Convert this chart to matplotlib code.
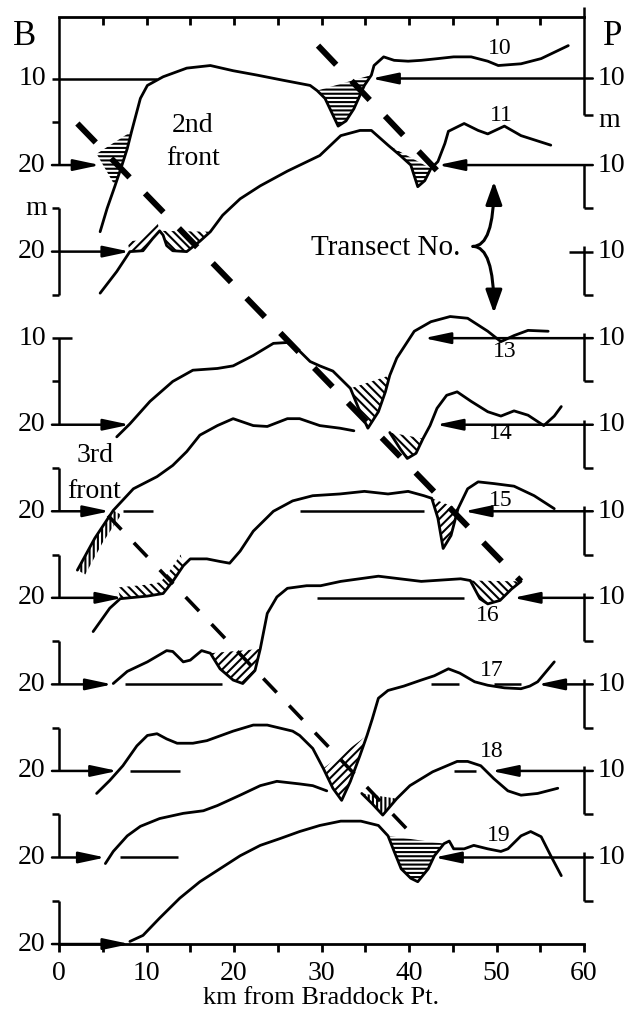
import numpy as np
import matplotlib
matplotlib.use("Agg")
import matplotlib.pyplot as plt

plt.rcParams['font.family'] = ['Liberation Serif', 'DejaVu Serif']
plt.rcParams['lines.scale_dashes'] = False
plt.rcParams['hatch.linewidth'] = 1.5

# transect profiles: distance from Braddock Pt. (km) and depth (m)
# each transect is drawn 10 m lower than the previous one; nan = gap in the trace
t10_km = [4.7, 5.5, 6.4, 7.2, 7.8, 8.3, 9.3, 10.1, 11.9, 14.6, 17.3, 19.9, 22.6, 25.6, 28.7, 29.5, 30.4,
          31.2, 31.9, 32.8, 33.7, 34.9, 35.7, 36.0, 37.1, 38.3, 39.9, 41.4, 43.3, 45.1, 47.1, 49.0, 50.2,
          52.8, 55.1, 58.2]
t10_m = [27.7, 25.0, 22.4, 20.0, 18.1, 16.1, 12.3, 10.8, 9.8, 8.8, 8.5, 9.1, 9.6, 10.2, 10.8, 11.4, 12.3,
         14.0, 15.5, 14.9, 13.5, 10.8, 9.6, 8.5, 7.5, 7.9, 8.0, 7.9, 7.7, 7.5, 7.5, 8.0, 8.5,
         8.3, 7.7, 6.2]

t11_km = [4.7, 6.6, 8.1, 9.6, 10.7, 11.5, 11.9, 12.3, 13.0, 14.6, 16.1, 17.3, 18.7, 20.7, 23.0, 26.1, 29.8,
          32.2, 34.4, 35.7, 37.6, 39.0, 40.2, 41.0, 41.8, 42.5, 43.3, 44.1, 44.5, 46.3, 47.9, 49.0, 50.9,
          52.8, 56.2]
t11_m = [24.8, 22.3, 20.0, 19.9, 18.5, 17.6, 18.1, 19.3, 19.9, 20.0, 18.8, 17.7, 15.8, 13.9, 12.4, 10.7, 8.9,
         6.6, 6.0, 6.0, 7.7, 8.9, 10.0, 12.5, 11.8, 10.4, 9.6, 7.5, 6.1, 5.2, 6.0, 6.4, 5.5,
         6.6, 7.7]

t13_km = [6.6, 8.1, 10.4, 13.0, 15.3, 18.1, 19.9, 22.2, 24.5, 26.1, 27.5, 28.7, 29.8, 31.3, 33.3, 34.4, 35.3,
          36.5, 37.3, 37.8, 38.6, 40.6, 42.5, 44.7, 46.7, 49.0, 50.5, 52.0, 53.6, 55.9]
t13_m = [21.4, 19.9, 17.3, 15.0, 13.7, 13.5, 13.2, 12.0, 10.6, 10.5, 11.5, 12.7, 13.2, 13.8, 15.8, 18.5, 20.4,
         18.5, 16.2, 14.3, 12.3, 9.2, 8.1, 7.5, 7.7, 9.2, 10.4, 9.7, 9.1, 9.2]

t14_km = [2.1, 4.1, 6.2, 8.5, 11.2, 13.0, 14.6, 16.1, 18.1, 19.9, 22.2, 23.8, 26.1, 27.5, 29.8, 32.1, 33.7,
          35.5, 37.8, 39.0, 39.8, 40.8, 41.6, 42.4, 43.2, 44.3, 45.5, 47.1, 49.0, 50.5, 52.0, 53.6, 55.4,
          56.6, 57.4]
t14_m = [26.8, 23.1, 19.9, 17.4, 16.0, 14.7, 13.1, 11.2, 10.1, 9.3, 10.1, 10.2, 9.3, 9.3, 10.1, 10.4, 10.7,
         np.nan, 10.9, 12.8, 13.9, 13.3, 11.6, 10.1, 8.1, 6.6, 6.2, 7.3, 8.5, 9.0, 8.4, 8.9, 10.1,
         9.0, 7.9]

t15_km = [3.9, 5.8, 7.0, 10.1, 11.9, 13.0, 14.2, 15.0, 16.9, 18.4, 19.5, 20.7, 22.2, 24.5, 26.7, 29.0, 32.1,
          34.9, 37.6, 39.9, 41.7, 42.6, 43.3, 43.9, 44.8, 45.6, 46.7, 47.9, 49.7, 52.0, 54.3, 56.6]
t15_m = [23.9, 21.2, 20.1, 19.8, 19.5, 18.1, 16.3, 15.5, 15.5, 15.8, 16.0, 14.6, 12.3, 10.0, 8.8, 8.2, 8.0,
         7.7, 8.0, 7.7, 8.2, 8.5, 10.8, 14.3, 12.8, 9.7, 7.4, 6.6, 6.8, 7.1, 8.2, 9.7]

t16_km = [6.2, 7.8, 10.1, 12.3, 13.0, 14.2, 15.0, 16.3, 17.3, 18.4, 19.9, 21.0, 22.4, 23.0, 23.8, 24.9, 26.1,
          28.3, 29.9, 32.2, 36.5, 41.4, 45.9, 47.0, 48.1, 49.0, 50.4, 51.7, 52.8]
t16_m = [19.9, 18.5, 17.4, 16.1, 16.2, 17.4, 17.2, 16.1, 16.4, 18.2, 19.5, 19.9, 18.4, 15.9, 11.8, 9.9, 8.9,
         8.6, 8.6, 8.1, 7.5, 8.1, 7.8, 8.0, 10.1, 10.7, 10.3, 9.0, 8.1]

t17_km = [4.3, 5.8, 7.3, 8.9, 10.1, 11.2, 12.3, 13.5, 15.3, 16.9, 19.9, 22.2, 23.8, 26.7, 27.5, 29.0, 30.2,
          31.3, 32.3, 33.3, 34.4, 35.2, 35.8, 36.5, 37.6, 39.4, 41.4, 42.9, 44.5, 45.8, 47.5, 49.0, 50.9,
          52.8, 53.8, 54.7, 56.6]
t17_m = [22.6, 21.1, 19.4, 17.1, 15.9, 15.7, 16.3, 16.8, 16.8, 16.5, 15.4, 14.7, 14.7, 15.4, 15.9, 17.4, 19.7,
         22.0, 23.4, 21.2, 18.2, 15.9, 14.0, 11.6, 10.7, 10.2, 9.5, 9.0, 8.2, 8.7, 9.7, 10.1, 10.4,
         10.5, 10.2, 9.7, 7.4]

t18_km = [5.3, 6.2, 7.8, 9.3, 11.5, 14.2, 16.5, 18.1, 20.7, 23.0, 24.9, 27.5, 29.0, 30.6, 32.5, 34.6, 35.8,
          37.0, 38.6, 40.1, 42.7, 45.5, 46.7, 48.2, 49.7, 51.3, 52.8, 54.7, 57.0]
t18_m = [20.7, 19.3, 17.5, 16.4, 15.5, 14.9, 14.6, 14.0, 12.8, 11.7, 11.2, 11.5, 11.7, 12.3, np.nan, 12.6, 13.8,
         15.1, 13.2, 11.7, 10.1, 8.9, 8.9, 9.4, 10.9, 12.3, 12.8, 12.6, 12.0]

t19_km = [8.1, 9.6, 11.5, 13.8, 16.1, 18.4, 20.7, 23.0, 25.3, 27.5, 29.8, 32.2, 34.5, 36.5, 37.6, 38.3, 39.1,
          40.2, 41.0, 42.2, 42.9, 44.0, 44.6, 45.1, 46.3, 47.4, 49.0, 50.5, 51.3, 52.8, 53.9, 55.1, 56.2,
          57.4]
t19_m = [19.7, 19.0, 17.0, 14.7, 12.8, 11.3, 9.8, 8.6, 7.8, 7.0, 6.3, 5.8, 5.8, 6.3, 7.5, 9.3, 11.3,
         12.4, 12.8, 11.3, 9.8, 8.4, 8.1, 9.0, 9.0, 8.6, 9.0, 9.3, 9.0, 7.5, 7.0, 7.6, 9.8,
         12.1]

profiles = {10: (t10_km, t10_m), 11: (t11_km, t11_m), 13: (t13_km, t13_m), 14: (t14_km, t14_m),
            15: (t15_km, t15_m), 16: (t16_km, t16_m), 17: (t17_km, t17_m), 18: (t18_km, t18_m),
            19: (t19_km, t19_m)}
scale_bars = [10, 11, 12, 13, 14, 15, 16, 17, 18, 19]

# where the 20 m (left) and 10 m (right) reference arrows end, km
left_tip = {10: 4.7, 11: 8.1, 13: 8.1, 14: 5.8, 15: 7.3, 16: 6.1, 17: 6.7, 18: 5.3, 19: 8.1}
right_tip = {10: 35.7, 11: 43.3, 13: 41.7, 14: 43.1, 15: 46.3, 16: 51.9, 17: 54.7, 18: 49.4, 19: 42.9}
# extra pieces of the reference levels, km
left_ref = {14: [(7.3, 10.7)], 16: [(7.5, 18.6)], 17: [(8.1, 13.8)], 18: [(7.0, 13.6)]}
right_ref = {15: [(27.5, 41.7)], 16: [(29.5, 46.3)], 17: [(42.5, 45.7), (49.7, 52.8)], 18: [(45.1, 47.7)]}

# transect number labels: km, depth (m)
num_km = {10: 50.4, 11: 50.5, 13: 50.9, 14: 50.5, 15: 50.5, 16: 49.0, 17: 49.4, 18: 49.4, 19: 50.2}
num_m = {10: 6.5, 11: 4.3, 13: 11.5, 14: 11.0, 15: 8.8, 16: 12.0, 17: 8.4, 18: 7.8, 19: 7.5}

# hatched troughs: transect, km from, km to, pattern, extra shape
hatches = [
    (10, 29.5, 35.7, '----', None),
    (10, 6.4, 8.3, '----', ('apex', 4.3, 18.7)),
    (11, 11.5, 17.3, '\\\\\\\\', None),
    (11, 8.1, 11.5, '////', ('band', -0.3, -1.2)),
    (11, 37.6, 42.5, '----', None),
    (13, 33.3, 37.8, '\\\\\\\\', None),
    (14, 2.1, 6.2, '||||', ('band', 0.9, 0.5)),
    (14, 37.8, 41.6, '\\\\\\\\', None),
    (15, 7.0, 14.2, '\\\\\\\\', ('band', -0.3, -1.3)),
    (15, 42.6, 45.6, '////', None),
    (16, 17.3, 23.0, '////', None),
    (16, 47.0, 52.8, '\\\\\\\\', None),
    (17, 30.2, 35.2, '////', None),
    (18, 34.6, 38.6, '||||', None),
    (19, 37.6, 44.0, '----', None),
]

# fronts, km and stacked depth
front2_km = [2.1, 52.8]
front2_y = [15.2, 68.1]
front2b_km = [29.6, 44.0]
front2b_y = [6.2, 21.5]
front3_km = [5.6, 40.5]
front3_y = [60.5, 97.5]


def shift(n):
    return 10.0 * (n - 10)


fig = plt.figure(figsize=(6.42, 10.10), dpi=100)
ax = fig.add_axes([0.0919, 0.0653, 0.8178, 0.9179])
ax.set_xlim(0, 60)
ax.set_ylim(110, 2.89)

LW = 2.0
for n, (km, m) in profiles.items():
    ax.plot(km, np.array(m) + shift(n), color='black', lw=LW, solid_joinstyle='round',
            solid_capstyle='round')

for n, a, b, pat, extra in hatches:
    km = np.array(profiles[n][0])
    y = np.array(profiles[n][1]) + shift(n)
    sel = (km >= a) & (km <= b)
    xs, ys = km[sel], y[sel]
    if extra is not None and extra[0] == 'apex':
        xs = np.append(xs, extra[1])
        ys = np.append(ys, extra[2] + shift(n))
    elif extra is not None and extra[0] == 'band':
        xs = np.concatenate([xs, xs[::-1] + extra[1]])
        ys = np.concatenate([ys, ys[::-1] + extra[2]])
    ax.fill(xs, ys, facecolor='none', edgecolor='black', lw=0, hatch=pat)

ax.plot(front2_km, front2_y, color='black', lw=4.3, dashes=(19, 16))
ax.plot(front2b_km, front2b_y, color='black', lw=4.3, dashes=(19, 16))
ax.plot(front3_km, front3_y, color='black', lw=2.6, dashes=(14, 13))


def arrow(x0, x1, y):
    ax.annotate('', xy=(x1, y), xytext=(x0, y), annotation_clip=False,
                arrowprops=dict(arrowstyle='-|>,head_length=0.8,head_width=0.17', lw=1.8,
                                color='black', shrinkA=0, shrinkB=0, mutation_scale=20))


def seg(xs, ys, **kw):
    ax.plot(xs, ys, color='black', lw=1.8, clip_on=False, solid_capstyle='butt', **kw)


FS = 20
TL = 0.8  # tick length on the scale bars, km
# left scale bars
for n in [10, 11, 13, 14, 15, 16, 17, 18, 19]:
    s = shift(n)
    if n == 10:
        top = 2.89
    elif n == 13:
        top = 10 + s
    else:
        top = 15 + s
    bottom = 25 + s if n == 11 else 20 + s
    seg([0, 0], [top, bottom])
    if n not in (10, 13):
        seg([-TL, 0], [15 + s, 15 + s])
    arrow(-TL, left_tip[n], 20 + s)
    ax.text(-1.5, 20 + s, '20', ha='right', va='center', fontsize=FS, clip_on=False)
    for a, b in left_ref.get(n, []):
        seg([a, b], [20 + s, 20 + s])
    if n == 10:
        seg([-TL, 11.2], [10, 10])
        seg([-TL, 0], [15, 15])
        ax.text(-1.5, 10, '10', ha='right', va='center', fontsize=FS)
    if n == 11:
        seg([-TL, 0], [25 + s, 25 + s])
        ax.text(-1.4, 15 + s, 'm', ha='right', va='center', fontsize=FS)
    if n == 13:
        seg([-TL, 1.5], [10 + s, 10 + s])
        seg([-TL, 0], [15 + s, 15 + s])
        ax.text(-1.5, 10 + s, '10', ha='right', va='center', fontsize=FS)

# right scale bars
for n in scale_bars:
    s = shift(n)
    top = 1.7 if n == 10 else (10 + s if n == 11 else 9.4 + s)
    foot = 14.2 if n == 10 else 15 + s
    seg([60, 60], [top, foot])
    seg([60, 61.0], [foot, foot])
    if n in right_tip:
        arrow(61.0, right_tip[n], 10 + s)
    else:
        seg([58.3, 61.0], [10 + s, 10 + s])
    for a, b in right_ref.get(n, []):
        seg([a, b], [10 + s, 10 + s])
    ax.text(61.6, 10 + s, '10', ha='left', va='center', fontsize=FS, clip_on=False)
ax.text(61.6, 14.8, 'm', ha='left', va='center', fontsize=FS, clip_on=False)

for n in profiles:
    ax.text(num_km[n], num_m[n] + shift(n), str(n), ha='center', va='center', fontsize=17)

ax.text(-3.9, 5.1, 'B', ha='center', va='center', fontsize=25, clip_on=False)
ax.text(63.3, 5.1, 'P', ha='center', va='center', fontsize=25, clip_on=False)
ax.text(15.3, 15.4, '2nd', ha='center', va='center', fontsize=20)
ax.text(15.3, 19.2, 'front', ha='center', va='center', fontsize=20)
ax.text(4.1, 53.6, '3rd', ha='center', va='center', fontsize=20)
ax.text(4.0, 57.7, 'front', ha='center', va='center', fontsize=20)
ax.text(45.9, 29.6, 'Transect No.', ha='right', va='center', fontsize=21)

# brace pointing at the transect numbers
for tip_y in (21.9, 37.1):
    ax.annotate('', xy=(49.7, tip_y), xytext=(47.3, 29.4),
                arrowprops=dict(arrowstyle='-|>,head_length=0.7,head_width=0.25', lw=2.2,
                                color='black', shrinkA=0, shrinkB=0, mutation_scale=20,
                                connectionstyle='angle3,angleA=0,angleB=90'))

# frame: bottom axis with km ticks, top line with ticks every 5 km
for side in ['left', 'right', 'top']:
    ax.spines[side].set_visible(False)
ax.spines['bottom'].set_linewidth(2)
ax.set_xticks(np.arange(0, 61, 10))
ax.set_xticks(np.arange(5, 60, 10), minor=True)
ax.tick_params(axis='x', which='both', direction='out', length=6, width=2, labelsize=FS, pad=6)
ax.set_yticks([])
ax.set_xlabel('km from Braddock Pt.', fontsize=19, labelpad=1)

top = ax.secondary_xaxis('top')
top.set_xticks(np.arange(5, 60, 5))
top.tick_params(direction='in', length=6, width=2, labeltop=False)
top.spines['top'].set_linewidth(2)

fig.savefig('out.png', dpi=100)
